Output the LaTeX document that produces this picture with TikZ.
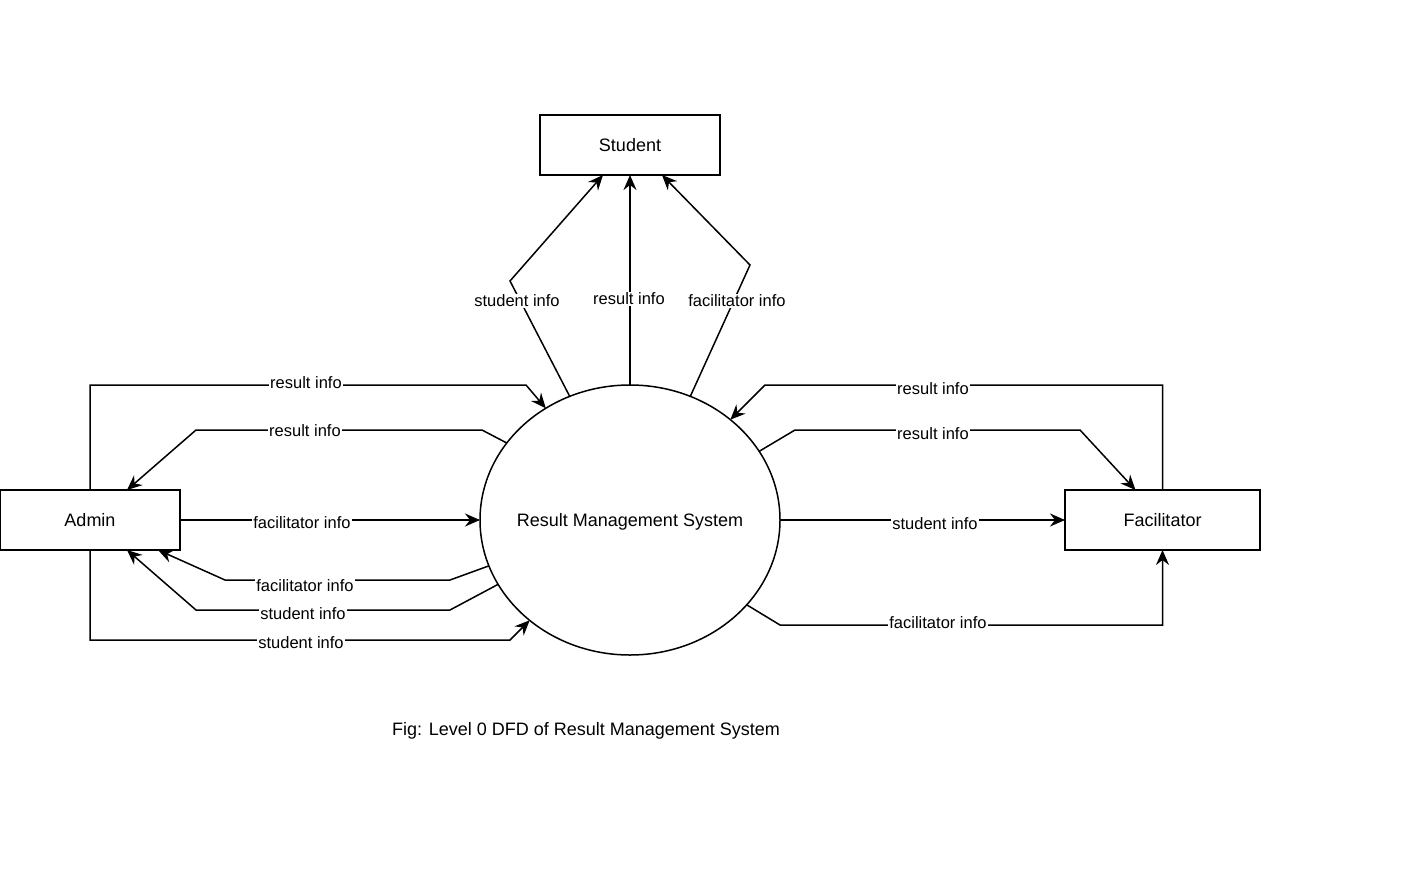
\documentclass[tikz,border=0pt]{standalone}
\usepackage{fontspec}
\setmainfont{Liberation Sans}
\usetikzlibrary{shapes.geometric,arrows.meta}
\tikzset{
	entity/.style={draw, line width=1.5pt, minimum height=60pt, inner sep=0pt, outer sep=0pt, font=\fontsize{18}{21}\selectfont},
	process/.style={draw, ellipse, line width=1.5pt, minimum width=300pt, minimum height=270pt, inner sep=0pt, outer sep=0pt},
	flow/.style={-{Stealth[length=15pt,width=13pt,inset=5pt]}, line width=1.5pt},
	lbl/.style={fill=white, inner sep=1pt, font=\fontsize{16.5}{19}\selectfont}
}
\begin{document}
\begin{tikzpicture}[x=1pt,y=-1pt]
		\useasboundingbox (0,0) rectangle (1413,870);

		% entities and process
		\node[entity, minimum width=180pt] (student) at (630,145) {Student};
		\node[entity, minimum width=180pt] (admin) at (90,520) {Admin};
		\node[entity, minimum width=195pt] (facilitator) at (1162.5,520) {Facilitator};
		\node[process] (rms) at (630,520) {};
		\node[font=\fontsize{18}{21}\selectfont] (rmstext) at (630,522) {Result Management System};

		% flows to Student
		\draw[flow] (rms.116.6) -- (510,281) -- ([xshift=-27pt]student.south);
		\draw[flow] (rms.north) -- (student.south);
		\draw[flow] (rms.64.6) -- (750,265) -- ([xshift=32pt]student.south);
		\node[lbl] (l1) at (517,301) {student info};
		\node[lbl] (l2) at (629,299) {result info};
		\node[lbl] (l3) at (737,301) {facilitator info};

		% flows between Admin and process
		\draw[flow] (admin.north) |- (526,385) -- (rms.127.4);
		\draw[flow] (rms.148.5) -- (482,430) -- (196,430) -- ([xshift=37pt]admin.north);
		\draw[flow] (admin.east) -- (rms.west);
		\draw[flow] (rms.198.9) -- (450,580) -- (225,580) -- ([xshift=68pt]admin.south);
		\draw[flow] (rms.206.7) -- (450,610) -- (196,610) -- ([xshift=37pt]admin.south);
		\draw[flow] (admin.south) |- (510,640) -- (rms.225);
		\node[lbl] (l4) at (306,383) {result info};
		\node[lbl] (l5) at (305,431) {result info};
		\node[lbl] (l6) at (302,523) {facilitator info};
		\node[lbl] (l7) at (305,586) {facilitator info};
		\node[lbl] (l8) at (303,614) {student info};
		\node[lbl] (l9) at (301,643) {student info};

		% flows between Facilitator and process
		\draw[flow] (facilitator.north) |- (765,385) -- (rms.45);
		\draw[flow] (rms.28.9) -- (795,430) -- (1080,430) -- ([xshift=-27pt]facilitator.north);
		\draw[flow] (rms.east) -- (facilitator.west);
		\draw[flow] (rms.324.9) -- (780,625) -| (facilitator.south);
		\node[lbl] (l10) at (933,389) {result info};
		\node[lbl] (l11) at (933,434) {result info};
		\node[lbl] (l12) at (935,524) {student info};
		\node[lbl] (l13) at (938,623) {facilitator info};

		% caption
		\node[font=\fontsize{18}{21}\selectfont] (caption) at (586,731) {Fig: Level 0 DFD of Result Management System};
	\end{tikzpicture}
\end{document}
